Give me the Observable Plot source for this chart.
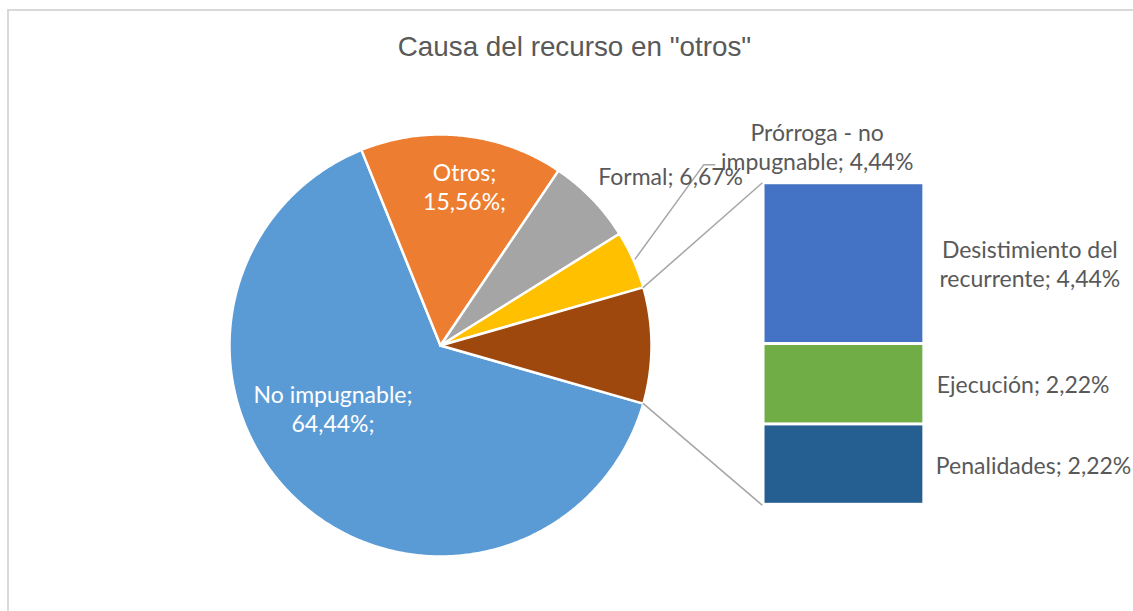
<!DOCTYPE html>
<html><head><meta charset="utf-8">
<script src="https://cdn.jsdelivr.net/npm/d3@7"></script>
<script src="https://cdn.jsdelivr.net/npm/@observablehq/plot@0.6"></script>
<style>
html,body{margin:0;padding:0;background:#fff;width:1133px;height:611px;overflow:hidden;}
#frame{position:absolute;left:7px;top:9px;width:1140px;height:620px;border-left:2px solid #d9d9d9;border-top:2px solid #d9d9d9;}
#title{position:absolute;left:8px;top:33px;width:1133px;text-align:center;font:27.8px/27px "Liberation Sans",Arial,sans-serif;color:#595959;}
#chart{position:absolute;left:0;top:80px;}
</style></head><body>
<div id="frame"></div>
<div id="title">Causa del recurso en "otros"</div>
<div id="chart"></div>
<script>
// ---- data ----
const pieCategories = ["No impugnable", "Otros", "Formal", "Prórroga - no impugnable"];
const pieValues = [64.44, 15.56, 6.67, 4.44];
const pieColors = ["#5b9bd5", "#ed7d31", "#a5a5a5", "#ffc000"];
const otherColor = "#9e480e";
const barCategories = ["Desistimiento del recurrente", "Ejecución", "Penalidades"];
const barValues = [4.44, 2.22, 2.22];
const barColors = ["#4472c4", "#70ad47", "#255e91"];

// ---- layout (units of pie radius) ----
const W = 1133, H = 531, R = 211, CX = 440, CY = 265;
const barX = [1.538, 2.286], barY = [-0.755, 0.769];
const labelFont = 23;
const pieLabelLayout = [
  {angle: 239.7, r: 0.59, text: "No impugnable;\n64,44%;", fill: "white", anchor: "middle"},
  {angle: 8.6, r: 0.763, text: "Otros;\n15,56%;", fill: "white", anchor: "middle"},
  {angle: 53.6, r: 1.355, text: "Formal; 6,67%", fill: "#595959", anchor: "middle"},
  {angle: 62.1, r: 2.02, text: "Prórroga - no\nimpugnable; 4,44%", fill: "#595959", anchor: "middle"}
];
const leader = {elbow: [1.248, 0.857], end: [1.30, 0.857]};
const barLabelLayout = [
  {dx: 107, anchor: "middle", text: "Desistimiento del\nrecurrente; 4,44%"},
  {dx: 14, anchor: "start", text: "Ejecución; 2,22%"},
  {dx: 13, anchor: "start", text: "Penalidades; 2,22%"}
];

const rad = a => a * Math.PI / 180;
const polar = (a, r) => ({x: r * Math.sin(rad(a)), y: r * Math.cos(rad(a))});

// ---- pie geometry from data ----
const aggValue = d3.sum(barValues);
const slices = pieCategories.map((c, i) => ({name: c, value: pieValues[i], color: pieColors[i]}))
  .concat([{name: "Otro", value: aggValue, color: otherColor}]);
const total = d3.sum(slices, d => d.value);
let acc = 90 + (aggValue / total) * 180;
slices.forEach(s => {
  s.a0 = acc; s.a1 = acc + s.value / total * 360; acc = s.a1;
  s.mid = (s.a0 + s.a1) / 2;
  const n = Math.max(2, Math.ceil((s.a1 - s.a0) / 0.5));
  const pts = [{x: 0, y: 0}];
  for (let k = 0; k <= n; k++) pts.push(polar(s.a0 + (s.a1 - s.a0) * k / n, 1));
  pts.push({x: 0, y: 0});
  s.points = pts;
});
const agg = slices[slices.length - 1];

// ---- bar geometry from data (stack from bottom) ----
const barH = barY[1] - barY[0];
let cum = 0;
const barData = barCategories.map((c, i) => ({name: c, value: barValues[i], color: barColors[i], label: barLabelLayout[i]}))
  .reverse().map(d => {
    const y1 = barY[0] + cum / aggValue * barH; cum += d.value;
    const y2 = barY[0] + cum / aggValue * barH;
    return {...d, y1, y2, ym: (y1 + y2) / 2};
  });

const marks = [];
slices.forEach(s => marks.push(Plot.line(s.points, {x: "x", y: "y", fill: s.color, stroke: "white", strokeWidth: 2.5, strokeLinejoin: "round"})));
barData.forEach(d => marks.push(Plot.rect([d], {x1: () => barX[0], x2: () => barX[1], y1: "y1", y2: "y2", fill: d.color, insetTop: 1.5, insetBottom: 1.5})));

// connector lines from the aggregated slice to the bar
const pTop = polar(agg.a0, 1), pBot = polar(agg.a1, 1);
marks.push(Plot.line([pTop, {x: barX[0] - 0.015, y: barY[1]}], {x: "x", y: "y", stroke: "#a6a6a6", strokeWidth: 1.5}));
marks.push(Plot.line([pBot, {x: barX[0] - 0.015, y: barY[0]}], {x: "x", y: "y", stroke: "#a6a6a6", strokeWidth: 1.5}));

// leader for Prórroga label
const pr = slices[3];
marks.push(Plot.line([polar(pr.mid, 1.01), {x: leader.elbow[0], y: leader.elbow[1]}, {x: leader.end[0], y: leader.end[1]}],
  {x: "x", y: "y", stroke: "#a6a6a6", strokeWidth: 1.5}));

// pie labels
pieLabelLayout.forEach(l => {
  const p = polar(l.angle, l.r);
  marks.push(Plot.text([{...p, t: l.text}], {x: "x", y: "y", text: "t", fill: l.fill, fontSize: labelFont, textAnchor: l.anchor, lineHeight: 1.25}));
});
// bar labels
barData.forEach(d => {
  marks.push(Plot.text([d], {x: () => barX[1], y: "ym", text: () => d.label.text, dx: d.label.dx, fill: "#595959", fontSize: labelFont, textAnchor: d.label.anchor, lineHeight: 1.25}));
});

const chart = Plot.plot({
  width: W, height: H, margin: 0,
  x: {domain: [-CX / R, (W - CX) / R], axis: null},
  y: {domain: [-(H - CY) / R, CY / R], axis: null},
  style: {fontFamily: "Lato, 'Open Sans', sans-serif", background: "transparent", overflow: "visible"},
  marks
});
document.getElementById("chart").appendChild(chart);
</script>
</body></html>
